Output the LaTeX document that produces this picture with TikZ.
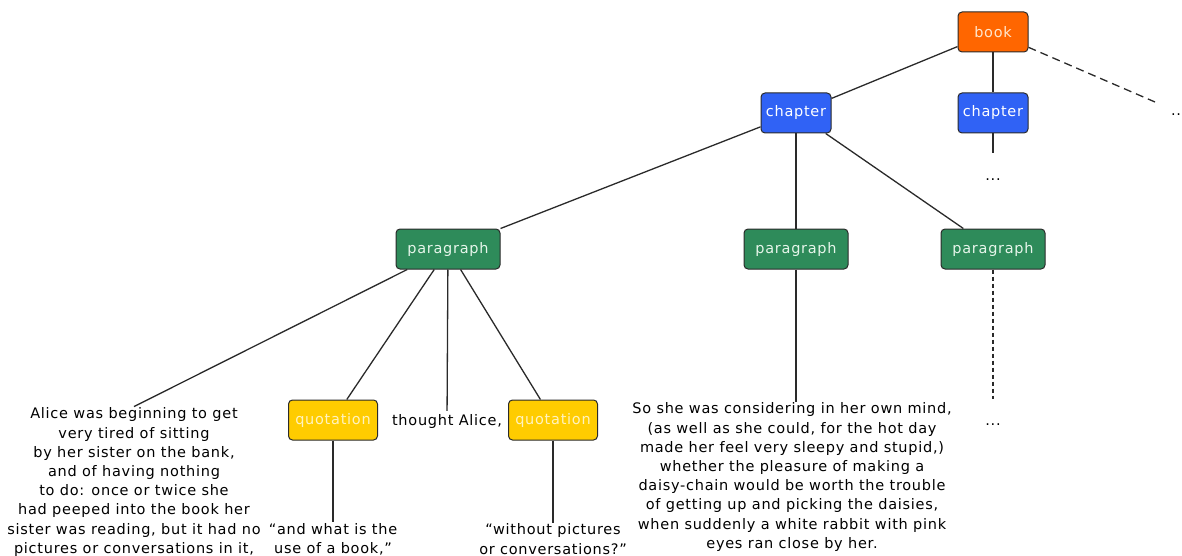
\documentclass[tikz,border=0pt]{standalone}
\usepackage{fontspec}
\setmainfont[LetterSpace=5]{DejaVu Sans}
\definecolor{bookc}{HTML}{FF6600}
\definecolor{chapc}{HTML}{3062F5}
\definecolor{parac}{HTML}{2E8B5A}
\definecolor{quotc}{HTML}{FFCC00}
\definecolor{linec}{HTML}{2A2A2A}
\definecolor{booktxt}{HTML}{FFE6CC}
\definecolor{paratxt}{HTML}{E6F5EA}
\definecolor{quottxt}{HTML}{FFF3C0}
\begin{document}
\begin{tikzpicture}[x=1pt,y=-1pt,font=\fontsize{14.5}{19.2}\selectfont]
\tikzset{
  tbox/.style={draw=linec,line width=1pt,rounded corners=4pt,minimum height=40pt,inner sep=0pt},
  bookbox/.style={tbox,fill=bookc,text=booktxt,minimum width=70pt},
  chapbox/.style={tbox,fill=chapc,text=white,minimum width=70pt},
  parabox/.style={tbox,fill=parac,text=paratxt,minimum width=104pt},
  quotbox/.style={tbox,fill=quotc,text=quottxt,minimum width=89pt},
  conn/.style={draw=linec,line width=1.3pt},
  txt/.style={align=center,inner sep=1pt,text=black}
}
\useasboundingbox (0,0) rectangle (1182,556);
% boxes
\node[bookbox] (book) at (993,32) {book};
\node[chapbox] (ch1) at (796,113) {chapter};
\node[chapbox] (ch2) at (993,113) {chapter};
\node[parabox] (p1) at (448,249) {paragraph};
\node[parabox] (p2) at (796,249) {paragraph};
\node[parabox] (p3) at (993,249) {paragraph};
\node[quotbox] (q1) at (333,420) {quotation};
\node[quotbox] (q2) at (553,420) {quotation};
% texts
\node[txt,inner sep=3pt] (thought) at (447,421) {thought Alice,};
\node[txt] (alice) at (134,482) {Alice was beginning to get\\very tired of sitting\\by her sister on the bank,\\and of having nothing\\to do: once or twice she\\had peeped into the book her\\sister was reading, but it had no\\pictures or conversations in it,};
\node[txt] (qt1) at (333,539) {“and what is the\\use of a book,”};
\node[txt] (qt2) at (553,539) {“without pictures\\or conversations?”};
\node[txt] (p2text) at (792,477) {So she was considering in her own mind,\\(as well as she could, for the hot day\\made her feel very sleepy and stupid,)\\whether the pleasure of making a\\daisy-chain would be worth the trouble\\of getting up and picking the daisies,\\when suddenly a white rabbit with pink\\eyes ran close by her.};
\node[txt] (dots2) at (993,180) {...};
\node[txt] (dots3) at (993,425) {...};
\node[txt] (more) at (1176,115) {..};
\coordinate (moreend) at (1155,102);
\coordinate (ch2end) at (993,153);
\coordinate (p3end) at (993,399);
% connectors
\draw[conn] (book) -- (ch1);
\draw[conn] (book) -- (ch2);
\draw[conn,dash pattern=on 8pt off 5pt] (book) -- (moreend);
\draw[conn] (ch2) -- (ch2end);
\draw[conn] (ch1) -- (p1);
\draw[conn] (ch1) -- (p2);
\draw[conn] (ch1) -- (p3);
\draw[conn] (p1) -- (alice.north);
\draw[conn] (p1) -- (q1);
\draw[conn] (p1) -- (thought);
\draw[conn] (p1) -- (q2);
\draw[conn] (q1) -- (qt1);
\draw[conn] (q2) -- (qt2);
\draw[conn] (p2) -- (p2 |- p2text.north);
\draw[conn,dash pattern=on 4pt off 3pt] (p3) -- (p3end);
\end{tikzpicture}
\end{document}
